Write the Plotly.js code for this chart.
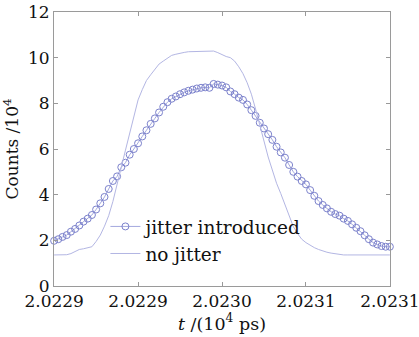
<!DOCTYPE html>
<html>
<head>
<meta charset="utf-8">
<script src="https://cdn.plot.ly/plotly-3.0.1.min.js"></script>
<style>html,body{margin:0;padding:0;background:#fff;}#chart{width:419px;height:337px;}</style>
</head>
<body>
<div id="chart"></div>
<script>
// time axis (10^4 ps)
const tValues = [
  2.022880, 2.022883, 2.022886, 2.022889, 2.022892, 2.022895, 2.022898, 2.022901, 2.022904, 2.022907,
  2.022910, 2.022913, 2.022916, 2.022919, 2.022922, 2.022925, 2.022928, 2.022931, 2.022934, 2.022937,
  2.022940, 2.022943, 2.022946, 2.022949, 2.022952, 2.022955, 2.022958, 2.022961, 2.022964, 2.022967,
  2.022970, 2.022973, 2.022976, 2.022979, 2.022982, 2.022985, 2.022988, 2.022991, 2.022994, 2.022997,
  2.023000, 2.023003, 2.023006, 2.023009, 2.023012, 2.023015, 2.023018, 2.023021, 2.023024, 2.023027,
  2.023030, 2.023033, 2.023036, 2.023039, 2.023042, 2.023045, 2.023048, 2.023051, 2.023054, 2.023057,
  2.023060, 2.023063, 2.023066, 2.023069, 2.023072, 2.023075, 2.023078, 2.023081, 2.023084, 2.023087,
  2.023090, 2.023093, 2.023096, 2.023099, 2.023102, 2.023105, 2.023108, 2.023111, 2.023114, 2.023117,
  2.023120
];
// counts (10^4) with jitter introduced
const jitterCounts = [
  1.98, 2.05, 2.15, 2.23, 2.38, 2.50, 2.65, 2.82, 2.95, 3.11,
  3.35, 3.62, 3.90, 4.25, 4.60, 4.80, 5.20, 5.40, 5.75, 6.00,
  6.25, 6.55, 6.82, 7.10, 7.34, 7.60, 7.85, 8.05, 8.20, 8.30,
  8.40, 8.48, 8.55, 8.60, 8.65, 8.68, 8.70, 8.68, 8.85, 8.82,
  8.78, 8.70, 8.52, 8.40, 8.25, 8.15, 7.95, 7.70, 7.45, 7.15,
  6.90, 6.65, 6.40, 6.10, 5.85, 5.62, 5.30, 5.00, 4.79, 4.60,
  4.45, 4.20, 3.95, 3.72, 3.55, 3.40, 3.25, 3.15, 3.08, 2.95,
  2.85, 2.70, 2.55, 2.40, 2.22, 2.05, 1.90, 1.82, 1.75, 1.72,
  1.72
];
// counts (10^4) without jitter
const noJitterCounts = [
  1.36, 1.36, 1.36, 1.37, 1.42, 1.52, 1.60, 1.63, 1.66, 1.72,
  1.95, 2.23, 2.62, 3.08, 3.70, 4.50, 5.20, 5.95, 6.70, 7.50,
  8.15, 8.60, 9.00, 9.25, 9.50, 9.72, 9.85, 9.98, 10.10, 10.15,
  10.20, 10.23, 10.26, 10.27, 10.28, 10.28, 10.29, 10.29, 10.29, 10.22,
  10.13, 10.05, 10.00, 9.85, 9.60, 9.30, 8.90, 8.40, 7.75, 7.10,
  6.35, 5.65, 5.05, 4.50, 4.05, 3.55, 3.10, 2.60, 2.30, 2.05,
  1.90, 1.78, 1.68, 1.60, 1.53, 1.48, 1.44, 1.41, 1.38, 1.36,
  1.36, 1.36, 1.36, 1.36, 1.36, 1.36, 1.36, 1.36, 1.36, 1.36,
  1.36
];
const seriesNames = ['jitter introduced', 'no jitter'];
const xTickVals = [2.02288, 2.02294, 2.02300, 2.02306, 2.02312];
const xTickText = ['2.0229', '2.0229', '2.0230', '2.0231', '2.0231'];
const yTickVals = [0, 2, 4, 6, 8, 10, 12];

const FONT = 'DejaVu Serif, serif';
const INK = '#111111';
const traces = [
  {
    x: tValues, y: jitterCounts, name: seriesNames[0],
    type: 'scatter', mode: 'lines+markers', cliponaxis: false,
    line: {color: '#a4a8de', width: 1},
    marker: {symbol: 'circle-open', size: 7, color: '#7c82cc', line: {width: 1, color: '#7c82cc'}}
  },
  {
    x: tValues, y: noJitterCounts, name: seriesNames[1],
    type: 'scatter', mode: 'lines',
    line: {color: '#b3b6e3', width: 1}
  }
];
const layout = {
  width: 419, height: 337,
  margin: {l: 54, r: 29, t: 12, b: 51},
  paper_bgcolor: '#ffffff', plot_bgcolor: '#ffffff',
  font: {family: FONT, size: 17, color: INK},
  showlegend: true,
  legend: {
    x: 0.153, y: 0.285, xanchor: 'left', yanchor: 'top',
    bgcolor: 'rgba(0,0,0,0)', borderwidth: 0,
    font: {family: FONT, size: 18.5, color: INK},
    tracegroupgap: 0
  },
  xaxis: {
    range: [2.0228799, 2.0231201],
    tickmode: 'array', tickvals: xTickVals, ticktext: xTickText,
    ticklabeloverflow: 'allow',
    ticks: 'inside', ticklen: 4, tickcolor: '#999', mirror: 'ticks',
    showline: true, linecolor: '#9a9a9a', linewidth: 1,
    showgrid: false, zeroline: false,
    tickfont: {family: FONT, size: 17, color: INK},
    title: {text: '<i>t</i> /(10<sup>4</sup> ps)', font: {family: FONT, size: 17.5, color: INK}, standoff: 0}
  },
  yaxis: {
    range: [0, 12],
    tickmode: 'array', tickvals: yTickVals,
    ticks: 'inside', ticklen: 4, tickcolor: '#999', mirror: 'ticks',
    showline: true, linecolor: '#9a9a9a', linewidth: 1,
    showgrid: false, zeroline: false,
    tickfont: {family: FONT, size: 17, color: INK},
    title: {text: 'Counts /10<sup>4</sup>', font: {family: FONT, size: 17, color: INK}, standoff: 6}
  }
};
Plotly.newPlot('chart', traces, layout, {displayModeBar: false, staticPlot: true});
</script>
</body>
</html>
